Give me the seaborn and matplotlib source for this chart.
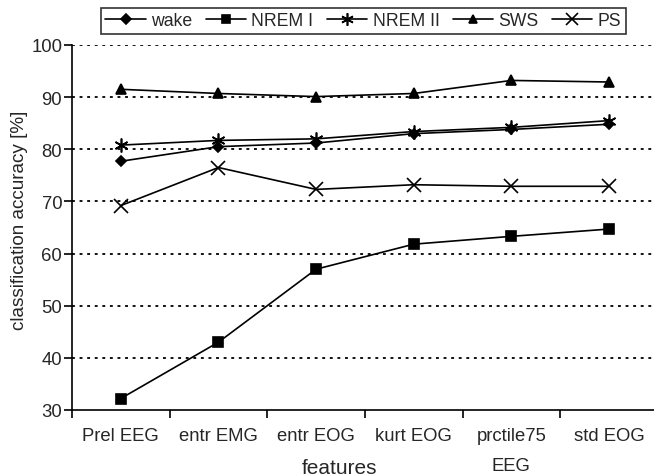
import matplotlib
matplotlib.use("Agg")
import matplotlib.pyplot as plt
import seaborn as sns
import pandas as pd
from matplotlib.lines import Line2D

features = ["Prel EEG", "entr EMG", "entr EOG", "kurt EOG", "prctile75\nEEG", "std EOG"]
wake = [77.7, 80.5, 81.2, 83.0, 83.8, 84.8]
nrem1 = [32.2, 43.0, 57.0, 61.8, 63.3, 64.7]
nrem2 = [80.8, 81.7, 82.0, 83.4, 84.2, 85.5]
sws = [91.5, 90.7, 90.1, 90.7, 93.2, 92.9]
ps = [69.2, 76.5, 72.3, 73.2, 72.9, 72.9]

series_names = ["wake", "NREM I", "NREM II", "SWS", "PS"]
series_vals = [wake, nrem1, nrem2, sws, ps]
markers = ["D", "s", (6, 2, 0), "^", "x"]
msizes = [5.5, 6.5, 10, 7, 10]
leg_msizes = [5, 5.5, 9, 6, 9]

sns.set_theme(style="white")
plt.rcParams['font.family'] = ['Liberation Sans', 'DejaVu Sans']

fig = plt.figure(figsize=(6.54, 4.77), dpi=100)
ax = fig.add_axes([0.110, 0.1384, 0.896, 0.7652])

handles = []
for name, vals, m, ms, lms in zip(series_names, series_vals, markers, msizes, leg_msizes):
    df = pd.DataFrame({"feature": features, "acc": vals})
    sns.lineplot(data=df, x="feature", y="acc", ax=ax, color="black", lw=1.2,
                 marker=m, markersize=ms, markeredgecolor="black",
                 markerfacecolor="black", markeredgewidth=1.2, sort=False)
    handles.append(Line2D([0], [0], color="black", lw=1.2, marker=m, markersize=lms,
                          markerfacecolor="black", markeredgecolor="black", markeredgewidth=1.2))

ax.set_xlim(-0.5, 5.5)
ax.set_ylim(30, 100)
ax.set_yticks([30, 40, 50, 60, 70, 80, 90, 100])
for y in [40, 50, 60, 70, 80, 90, 100]:
    ax.axhline(y, color="black", lw=1.3, ls=(0, (1.6, 2.6)), zorder=0)

ax.set_xticks(range(len(features)))
ax.set_xticklabels(features, fontsize=13.3, linespacing=2.0)
ax.set_xticks([i - 0.5 for i in range(len(features) + 1)], minor=True)
ax.tick_params(axis="x", which="major", length=0, pad=12)
ax.tick_params(axis="x", which="minor", length=6, width=1.2, color="black", direction="out")
ax.tick_params(axis="y", which="major", length=6, width=1.2, color="black", direction="out",
               labelsize=13.3, pad=1)
ax.tick_params(left=True, bottom=True, which="both")

for s in ["top", "right"]:
    ax.spines[s].set_visible(False)
for s in ["left", "bottom"]:
    ax.spines[s].set_color("black")
    ax.spines[s].set_linewidth(1.2)

ax.set_xlabel("features", fontsize=15)
ax.xaxis.label.set_va("center")
ax.xaxis.set_label_coords((340 - 72) / 586, -(469 - 411) / 365)
ax.set_ylabel("classification accuracy [%]", fontsize=13.6)
ax.yaxis.label.set_va("center")
ax.yaxis.set_label_coords(-(72 - 20) / 586, (411 - 220) / 365)

leg = fig.legend(handles, series_names, loc="upper left", bbox_to_anchor=(101 / 654, 1 - 9 / 477),
                 ncol=5, frameon=True, fancybox=False, edgecolor="black", fontsize=12.7,
                 handlelength=2.3, handletextpad=0.3, columnspacing=0.75, borderpad=0.25,
                 borderaxespad=0)
leg.get_frame().set_linewidth(1.2)

fig.savefig("out.png", dpi=100)
